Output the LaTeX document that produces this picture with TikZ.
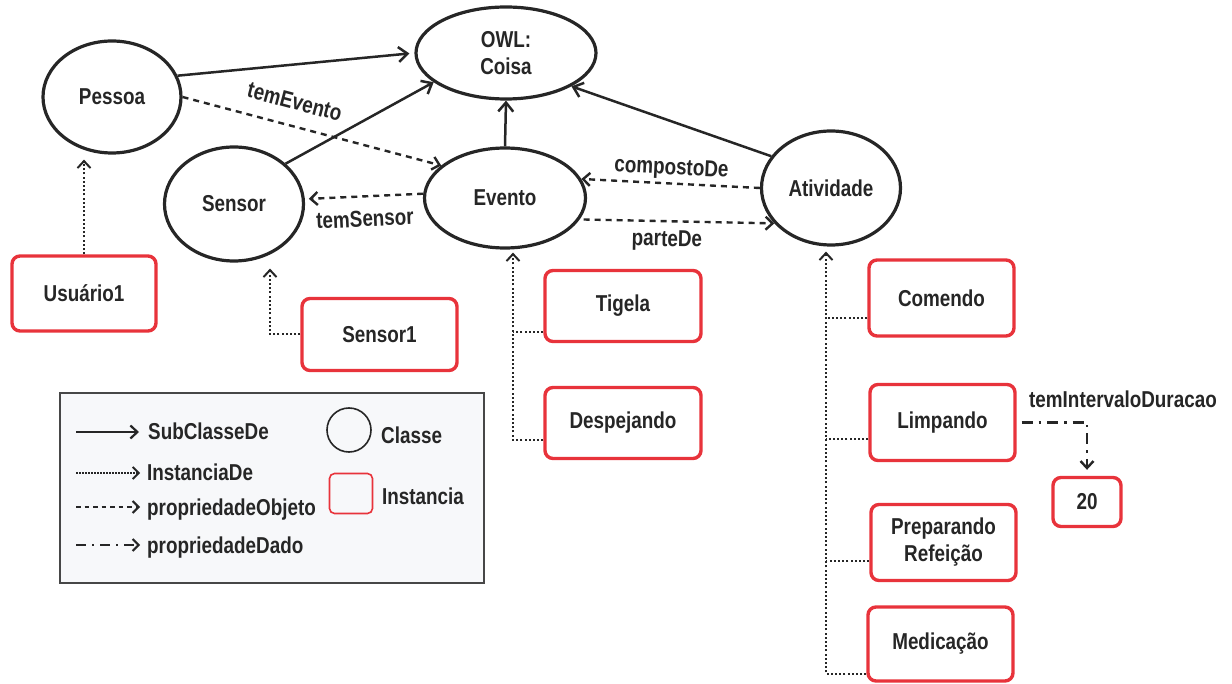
\documentclass[tikz,border=0pt]{standalone}
\usepackage{fontspec}
\setmainfont[FakeStretch=0.82]{Liberation Sans}
\usetikzlibrary{shapes.geometric,arrows.meta,calc}
\definecolor{ink}{HTML}{262626}
\definecolor{instred}{HTML}{E8333B}
\definecolor{legendbg}{HTML}{F7F8FA}

\begin{document}
\begin{tikzpicture}[x=1pt,y=-1pt,
  font=\fontsize{23}{28}\selectfont\bfseries, text=ink,
  classe/.style={ellipse, draw=ink, line width=3.2pt, inner sep=0pt, align=center},
  inst/.style={rectangle, draw=instred, line width=3.4pt, rounded corners=8pt,
    inner sep=0pt, align=center},
  tipbig/.style={-{Straight Barb[length=9pt,width=15pt]}},
  tipsmall/.style={-{Straight Barb[length=7pt,width=13pt]}},
  subcl/.style={tipbig, draw=ink, line width=2.5pt},
  dotline/.style={draw=ink, line width=2pt, dash pattern=on 2pt off 2.2pt},
  instof/.style={dotline, tipsmall},
  objprop/.style={tipsmall, draw=ink, line width=2.4pt, dash pattern=on 6pt off 5pt},
  dataprop/.style={tipsmall, draw=ink, line width=2.4pt,
    dash pattern=on 11pt off 6pt on 2.4pt off 6pt},
  edgelbl/.style={inner sep=2pt},
  legtext/.style={anchor=base west, inner sep=0pt}
]
\useasboundingbox (0,0) rectangle (1232,684);

% ---- classes ----
\node[classe, minimum width=180pt, minimum height=92pt] (owl) at (506,53) {OWL:\\[-1pt]Coisa};
\node[classe, minimum width=138pt, minimum height=112pt] (pessoa) at (112,97) {Pessoa};
\node[classe, minimum width=139pt, minimum height=114pt] (sensor) at (234,204) {Sensor};
\node[classe, minimum width=161pt, minimum height=100pt] (evento) at (505,198) {Evento};
\node[classe, minimum width=139pt, minimum height=114pt] (atividade) at (831,188) {Atividade};

% ---- instances ----
\node[inst, minimum width=144pt, minimum height=75pt] (usuario) at (84,293.5) {Usuário1};
\node[inst, minimum width=155pt, minimum height=72pt] (sensor1) at (379.5,334.5) {Sensor1};
\node[inst, minimum width=156pt, minimum height=71pt] (tigela) at (623,306) {Tigela};
\node[inst, minimum width=156pt, minimum height=71pt] (despejando) at (623,423) {Despejando};
\node[inst, minimum width=145pt, minimum height=76pt] (comendo) at (941.5,298) {Comendo};
\node[inst, minimum width=145pt, minimum height=76pt] (limpando) at (942.5,422.5) {Limpando};
\node[inst, minimum width=145pt, minimum height=76pt] (preparando) at (943.5,542.5) {Preparando\\[-1pt]Refeição};
\node[inst, minimum width=145pt, minimum height=74pt] (medicacao) at (940.5,644) {Medicação};
\node[inst, minimum width=68pt, minimum height=49pt] (n20) at (1087,502) {20};

% ---- subclass links ----
\draw[subcl, shorten >=5pt] (pessoa.18) -- (owl.west);
\draw[subcl] (sensor.38) -- (owl.202);
\draw[subcl] (evento.north) -- (owl.south);
\draw[subcl] (atividade.152) -- (owl.333);

% ---- object properties ----
\draw[objprop] (pessoa.east) -- node[edgelbl, sloped, above=13pt, pos=0.41] {temEvento} (evento.153);
\draw[objprop, shorten >=4pt] (evento.177) -- node[edgelbl, sloped, below=11pt] {temSensor} (sensor.4);
\draw[objprop] (atividade.west) -- node[edgelbl, sloped, above=1pt, pos=0.5] {compostoDe} (evento.14);
\draw[objprop, shorten <=4pt] (evento.-16) -- node[edgelbl, sloped, below=6pt, pos=0.45] {parteDe} (atividade.212);

% ---- instance links ----
\draw[instof, shorten >=5pt] (usuario.north) -- (usuario.north |- pessoa.south);

\coordinate (sntip) at ($(sensor.south)+(36,6)$);
\draw[instof] (sensor1.west) -| (sntip);

\coordinate (evtip) at ($(evento.south)+(8,3)$);
\coordinate (tgb) at ($(tigela.west)+(0,26)$);
\coordinate (dpb) at ($(despejando.west)+(0,17)$);
\draw[instof] (dpb) -| (evtip);
\draw[dotline] (tgb) -- (tgb -| evtip);

\coordinate (attip) at ($(atividade.south)+(-5,5)$);
\coordinate (cmb) at ($(comendo.west)+(0,20)$);
\coordinate (lpb) at ($(limpando.west)+(0,16.5)$);
\coordinate (prb) at ($(preparando.west)+(0,18.5)$);
\coordinate (mdb) at ($(medicacao.west)+(0,30)$);
\draw[instof] (mdb) -| (attip);
\draw[dotline] (cmb) -- (cmb -| attip);
\draw[dotline] (lpb) -- (lpb -| attip);
\draw[dotline] (prb) -- (prb -| attip);

% ---- data property ----
\draw[dataprop, shorten >=6pt] ($(limpando.east)+(5,0)$) -| (n20.north);
\node[edgelbl] (durlbl) at (1123,399) {temIntervaloDuracao};

% ---- legend ----
\node[draw=ink!85, line width=1.5pt, fill=legendbg, minimum width=424pt,
  minimum height=190pt, inner sep=0pt] (legend) at (272,488) {};
\node[legtext] (lsub) at (148,439) {SubClasseDe};
\node[legtext] (linst) at (147,480) {InstanciaDe};
\node[legtext] (lobj) at (147,515) {propriedadeObjeto};
\node[legtext] (ldado) at (147,553) {propriedadeDado};
\draw[subcl, line width=2.2pt, -{Straight Barb[length=7pt,width=13pt]}]
  ($(lsub.base west)+(-72,-7)$) -- ($(lsub.base west)+(-9,-7)$);
\draw[draw=ink, line width=1.8pt, dash pattern=on 1.5pt off 1.5pt, -{Straight Barb[length=6pt,width=12pt]}]
  ($(linst.base west)+(-71,-7)$) -- ($(linst.base west)+(-7,-7)$);
\draw[draw=ink, line width=2pt, dash pattern=on 4.5pt off 4pt, -{Straight Barb[length=6pt,width=12pt]}]
  ($(lobj.base west)+(-71,-8)$) -- ($(lobj.base west)+(-7,-8)$);
\draw[draw=ink, line width=2pt, dash pattern=on 10pt off 6pt on 2pt off 6pt, -{Straight Barb[length=6pt,width=12pt]}]
  ($(ldado.base west)+(-71,-8)$) -- ($(ldado.base west)+(-7,-8)$);
\node[circle, draw=ink, line width=1.6pt, minimum size=44pt, inner sep=0pt] (lcls) at (349,430) {};
\node[rectangle, draw=instred, line width=1.6pt, rounded corners=5pt,
  minimum width=43pt, minimum height=40pt, inner sep=0pt] (linsbox) at (351,493.5) {};
\node[legtext] (lclstxt) at (381,443) {Classe};
\node[legtext] (linstxt) at (382,504) {Instancia};
\end{tikzpicture}
\end{document}
